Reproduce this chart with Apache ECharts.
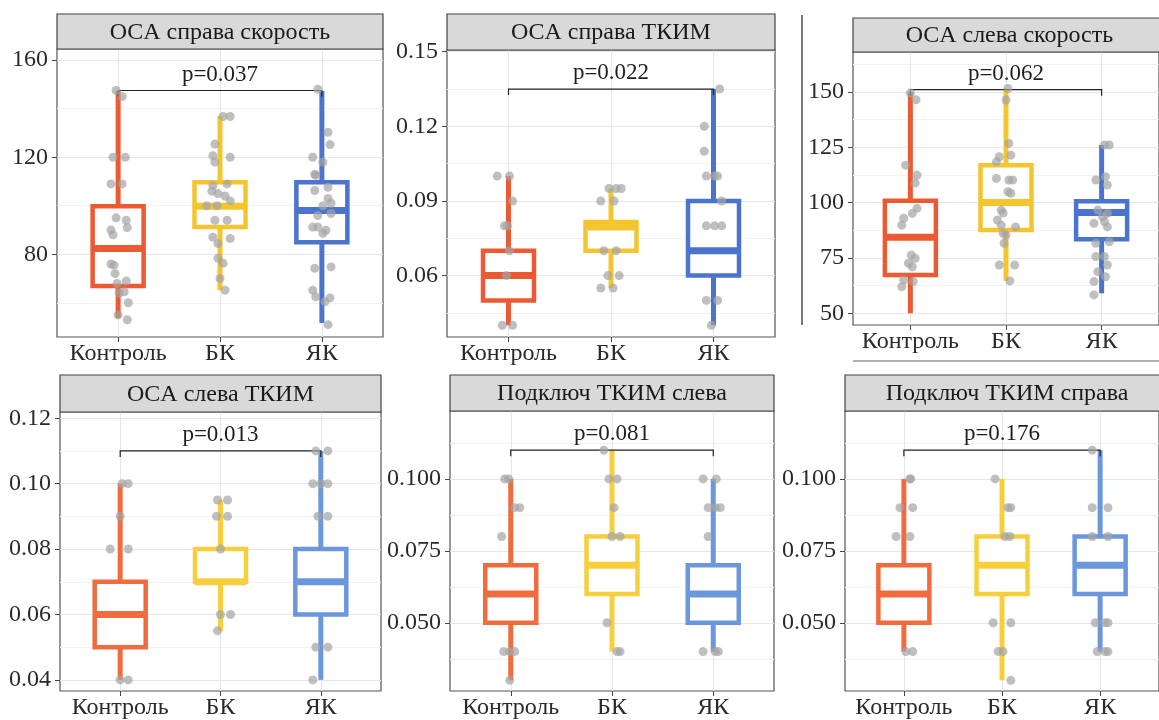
<!DOCTYPE html>
<html>
<head>
<meta charset="UTF-8">
<title>ОСА / ТКИМ по группам</title>
<style>
  html, body { margin: 0; padding: 0; background: #fff; }
  #box { width: 1159px; height: 720px; }
</style>
<script src="https://cdn.jsdelivr.net/npm/echarts@6/dist/echarts.min.js"></script>
</head>
<body>
<div id="box"></div>
<script>
var categories = ['Контроль', 'БК', 'ЯК'];
var titles = ['OCA справа скорость', 'OCA справа ТКИМ', 'OCA слева скорость',
              'OCA слева ТКИМ', 'Подключ ТКИМ слева', 'Подключ ТКИМ справа'];
var pTexts = ['p=0.037', 'p=0.022', 'p=0.062', 'p=0.013', 'p=0.081', 'p=0.176'];
var bracketY = [147.5, 0.135, 151, 0.11, 0.11, 0.11];

// [min, Q1, median, Q3, max] for Контроль, БК, ЯК
var box1 = [[53.7, 66.9, 82.4, 99.8, 147.3], [65.2, 91.2, 99.8, 109.7, 137], [51.7, 84.9, 98, 109.7, 147.3]];
var box2 = [[0.04, 0.05, 0.06, 0.07, 0.10], [0.055, 0.07, 0.0795, 0.0815, 0.095], [0.04, 0.06, 0.07, 0.09, 0.135]];
var box3 = [[50, 67.3, 84.3, 100.8, 150], [64.6, 87.6, 100, 116.9, 151.5], [59, 83.4, 95.5, 100.6, 126]];
var box4 = [[0.04, 0.05, 0.06, 0.07, 0.10], [0.055, 0.07, 0.07, 0.08, 0.095], [0.04, 0.06, 0.07, 0.08, 0.11]];
var box5 = [[0.03, 0.05, 0.06, 0.07, 0.10], [0.04, 0.06, 0.07, 0.08, 0.11], [0.04, 0.05, 0.06, 0.07, 0.10]];
var box6 = [[0.04, 0.05, 0.06, 0.07, 0.10], [0.03, 0.06, 0.07, 0.08, 0.10], [0.04, 0.06, 0.07, 0.08, 0.11]];

// jittered observations: [group position (1..3) with jitter, value]
var pts1 = [
  [0.98, 147.5], [1.04, 145], [0.95, 120], [1.07, 120], [0.93, 109], [1.04, 109], [0.98, 95], [1.08, 94],
  [1.09, 91], [0.93, 90], [0.95, 88], [0.93, 76], [0.96, 75.5], [0.97, 72], [0.99, 68], [1.08, 69],
  [1.06, 64.5], [1.01, 64], [1.1, 60], [1.0, 55], [1.09, 53],
  [2.03, 136.8], [2.1, 136.8], [1.95, 125.4], [1.93, 120.6], [2.1, 120], [1.95, 118], [1.93, 108.3], [2.07, 109],
  [1.92, 106], [1.98, 105], [2.05, 104], [2.1, 102], [1.87, 100], [1.97, 100], [1.95, 94], [2.07, 94],
  [1.93, 87], [1.98, 84.4], [2.1, 86.5], [1.98, 78.4], [2.03, 76.3], [2.0, 70], [2.05, 65.2],
  [2.96, 148], [3.06, 130.3], [3.08, 125.2], [2.91, 120], [3.01, 118], [2.93, 113], [2.94, 112.5], [3.06, 107.6],
  [2.93, 106.3], [3.06, 103], [3.09, 101], [3.01, 100], [2.96, 96], [3.09, 96.8], [2.91, 91.2], [2.96, 91.2],
  [3.04, 89.9], [3.01, 88.6], [2.93, 74.2], [3.09, 74.8], [2.91, 65.2], [3.08, 62], [3.03, 60.4], [2.94, 62.5], [3.06, 51]
];
var pts2 = [
  [0.89, 0.10], [1.01, 0.10], [1.04, 0.09], [0.96, 0.08], [0.99, 0.08], [1.01, 0.07], [0.98, 0.06], [0.94, 0.04], [1.04, 0.04],
  [1.98, 0.095], [2.05, 0.095], [2.1, 0.095], [1.9, 0.09], [2.03, 0.09], [1.93, 0.07], [2.05, 0.07], [1.97, 0.06], [2.08, 0.06],
  [1.9, 0.055], [2.02, 0.055],
  [3.06, 0.135], [2.91, 0.12], [2.91, 0.11], [2.93, 0.10], [3.01, 0.10], [3.04, 0.10], [3.08, 0.09], [2.93, 0.08],
  [3.01, 0.08], [3.08, 0.08], [2.93, 0.05], [3.04, 0.05], [2.98, 0.04]
];
var pts3 = [
  [1.0, 149.5], [1.06, 146.4], [0.95, 116.9], [1.07, 112.4], [1.05, 108.8], [1.07, 97.4], [1.02, 95.1], [0.93, 92.9],
  [0.91, 89.8], [1.01, 76.3], [1.05, 74.8], [0.98, 72.6], [1.02, 71], [0.93, 65], [1.03, 64.3], [0.91, 62],
  [2.02, 151.5], [2.0, 146.3], [2.03, 126.7], [1.93, 120.7], [2.05, 121.4], [1.9, 118.4], [1.9, 110.9], [2.03, 110.2],
  [2.07, 110.2], [2.02, 104.9], [2.05, 104.2], [1.95, 96.6], [1.97, 95.3], [1.91, 92.1], [1.95, 89.8], [2.1, 89],
  [1.97, 86.1], [2.0, 85.3], [1.98, 81.6], [1.93, 71.8], [2.09, 71.8], [2.04, 64.6],
  [3.03, 126], [3.08, 126], [2.94, 110.2], [3.04, 111.7], [3.06, 107.9], [2.96, 96.6], [3.01, 93.6], [3.06, 95.1],
  [2.92, 90.6], [3.03, 91.3], [3.06, 89], [2.94, 81.6], [3.08, 82.3], [2.94, 75.6], [3.03, 75.6], [3.06, 71.8],
  [2.96, 68.8], [3.04, 66.5], [2.92, 64.3], [2.92, 58.3]
];
var pts4 = [
  [1.02, 0.10], [1.08, 0.10], [1.0, 0.09], [0.9, 0.08], [1.08, 0.08], [1.0, 0.04], [1.08, 0.04],
  [1.97, 0.095], [2.07, 0.095], [1.96, 0.09], [2.07, 0.09], [2.0, 0.08], [2.0, 0.06], [2.1, 0.06], [1.97, 0.055],
  [2.95, 0.11], [3.07, 0.11], [2.92, 0.10], [3.0, 0.10], [3.07, 0.10], [2.97, 0.09], [3.07, 0.09], [2.95, 0.05],
  [3.07, 0.05], [2.92, 0.04]
];
var pts5 = [
  [0.94, 0.10], [0.98, 0.10], [1.04, 0.09], [1.09, 0.09], [0.91, 0.08], [0.93, 0.04], [0.99, 0.04], [1.04, 0.04], [0.99, 0.03],
  [1.92, 0.11], [1.97, 0.10], [2.05, 0.10], [2.02, 0.09], [2.0, 0.08], [2.08, 0.08], [1.95, 0.05], [2.05, 0.04], [2.08, 0.04],
  [2.9, 0.10], [3.03, 0.10], [2.95, 0.09], [3.02, 0.09], [3.07, 0.09], [2.95, 0.08], [2.9, 0.04], [3.02, 0.04], [3.05, 0.04]
];
var pts6 = [
  [1.06, 0.10], [1.07, 0.10], [0.96, 0.09], [1.09, 0.09], [0.92, 0.08], [1.06, 0.08], [1.02, 0.04], [1.09, 0.04],
  [1.93, 0.10], [2.06, 0.09], [2.09, 0.09], [2.03, 0.08], [2.08, 0.08], [1.91, 0.05], [2.09, 0.05], [1.96, 0.04],
  [2.01, 0.04], [2.09, 0.03],
  [2.92, 0.11], [2.92, 0.09], [3.08, 0.09], [2.92, 0.08], [3.08, 0.08], [2.95, 0.05], [3.05, 0.05], [3.08, 0.05],
  [2.97, 0.04], [3.05, 0.04], [3.08, 0.04]
];

// y tick labels and minor grid positions
var yTicks1 = [80, 120, 160],                 yMinor1 = [60, 100, 140];
var yTicks2 = [0.06, 0.09, 0.12, 0.15],       yMinor2 = [0.045, 0.075, 0.105, 0.135];
var yTicks3 = [50, 75, 100, 125, 150],        yMinor3 = [62.5, 87.5, 112.5, 137.5, 162.5];
var yTicks4 = [0.04, 0.06, 0.08, 0.10, 0.12], yMinor4 = [0.05, 0.07, 0.09, 0.11];
var yTicks5 = [0.050, 0.075, 0.100],          yMinor5 = [0.0375, 0.0625, 0.0875, 0.1125];
var yTicks6 = [0.050, 0.075, 0.100],          yMinor6 = [0.0375, 0.0625, 0.0875, 0.1125];

var colTop = ['#EC5A34', '#F5C530', '#4B74CF'];
var colBottom = ['#F06C3E', '#F7CF3E', '#6C97DD'];
var FONT = '"Liberation Serif", "DejaVu Serif", serif';

var panels = [
  {box: box1, pts: pts1, ticks: yTicks1, minor: yMinor1, dec: 0, min: 45.9, max: 164.6, rect: [57, 49, 326, 288], strip: 14, cols: colTop},
  {box: box2, pts: pts2, ticks: yTicks2, minor: yMinor2, dec: 2, min: 0.0353, max: 0.1507, rect: [447, 50, 328, 287], strip: 14, cols: colTop},
  {box: box3, pts: pts3, ticks: yTicks3, minor: yMinor3, dec: 0, min: 44.7, max: 168, rect: [853, 52, 313, 273], strip: 18, cols: colTop},
  {box: box4, pts: pts4, ticks: yTicks4, minor: yMinor4, dec: 2, min: 0.0366, max: 0.1219, rect: [60, 412, 321, 281], strip: 375, cols: colBottom},
  {box: box5, pts: pts5, ticks: yTicks5, minor: yMinor5, dec: 3, min: 0.0263, max: 0.1236, rect: [450, 411, 324, 282], strip: 375, cols: colBottom},
  {box: box6, pts: pts6, ticks: yTicks6, minor: yMinor6, dec: 3, min: 0.0263, max: 0.1236, rect: [845, 411, 324, 282], strip: 375, cols: colBottom}
];

var BOX_W = 51;

function boxRenderer(cols) {
  return function (params, api) {
    var x = api.value(0);
    var lo = api.coord([x, api.value(1)]);
    var q1 = api.coord([x, api.value(2)]);
    var md = api.coord([x, api.value(3)]);
    var q3 = api.coord([x, api.value(4)]);
    var hi = api.coord([x, api.value(5)]);
    var c = cols[params.dataIndex];
    var h = BOX_W / 2;
    return {
      type: 'group',
      children: [
        {type: 'line', shape: {x1: lo[0], y1: lo[1], x2: q1[0], y2: q1[1]}, style: {stroke: c, lineWidth: 5}},
        {type: 'line', shape: {x1: q3[0], y1: q3[1], x2: hi[0], y2: hi[1]}, style: {stroke: c, lineWidth: 5}},
        {type: 'rect', shape: {x: q3[0] - h, y: q3[1], width: BOX_W, height: q1[1] - q3[1]},
         style: {fill: '#fff', stroke: c, lineWidth: 4.5}},
        {type: 'line', shape: {x1: md[0] - h, y1: md[1], x2: md[0] + h, y2: md[1]}, style: {stroke: c, lineWidth: 7}}
      ]
    };
  };
}

function bracketRenderer(text) {
  return function (params, api) {
    var a = api.coord([api.value(0), api.value(2)]);
    var b = api.coord([api.value(1), api.value(2)]);
    return {
      type: 'group',
      children: [
        {type: 'polyline', shape: {points: [[a[0], a[1] + 6], [a[0], a[1]], [b[0], b[1]], [b[0], b[1] + 6]]},
         style: {stroke: '#222', lineWidth: 1.2, fill: null}},
        {type: 'text', x: (a[0] + b[0]) / 2, y: a[1] - 16,
         style: {text: text, fill: '#1E1E1E', fontSize: 23, fontFamily: FONT, align: 'center', verticalAlign: 'middle'}}
      ]
    };
  };
}

var grids = [], xAxes = [], yAxes = [], series = [], graphics = [];

panels.forEach(function (p, i) {
  var r = p.rect;
  grids.push({left: r[0], top: r[1], width: r[2], height: r[3], show: true,
              backgroundColor: '#fff', borderColor: '#555', borderWidth: 1.2});

  xAxes.push({
    gridIndex: i, type: 'value', min: 0.4, max: 3.6,
    axisLine: {show: false},
    axisTick: {show: true, length: 5, lineStyle: {color: '#444'}, customValues: [1, 2, 3]},
    axisLabel: {customValues: [1, 2, 3], margin: 5, color: '#2A2A2A', fontSize: 24, fontFamily: FONT,
                formatter: function (v) { return categories[Math.round(v) - 1]; }},
    splitLine: {show: true, lineStyle: {color: '#E6E6E6', width: 1.2}}
  });

  yAxes.push({
    gridIndex: i, type: 'value', min: p.min, max: p.max,
    axisLine: {show: false},
    axisTick: {show: true, length: 5, lineStyle: {color: '#444'}, customValues: p.ticks},
    axisLabel: {customValues: p.ticks, margin: 9, color: '#2A2A2A', fontSize: 24, fontFamily: FONT,
                formatter: (function (d) { return function (v) { return v.toFixed(d); }; })(p.dec)},
    splitLine: {show: true, lineStyle: {color: '#E6E6E6', width: 1.2}}
  });
  // minor grid lines
  yAxes.push({
    gridIndex: i, type: 'value', min: p.min, max: p.max, position: 'left',
    axisLine: {show: false}, axisLabel: {show: false},
    axisTick: {show: false, customValues: p.minor},
    splitLine: {show: true, lineStyle: {color: '#F2F2F2', width: 1}}
  });

  series.push({
    type: 'custom', xAxisIndex: i, yAxisIndex: 2 * i,
    renderItem: boxRenderer(p.cols),
    encode: {x: 0, y: [1, 2, 3, 4, 5]},
    data: p.box.map(function (b, k) { return [k + 1].concat(b); }),
    silent: true
  });
  series.push({
    type: 'scatter', xAxisIndex: i, yAxisIndex: 2 * i,
    symbolSize: 9,
    itemStyle: {color: '#A4A4A4', opacity: 0.7},
    data: p.pts,
    silent: true
  });
  series.push({
    type: 'custom', xAxisIndex: i, yAxisIndex: 2 * i,
    renderItem: bracketRenderer(pTexts[i]),
    encode: {x: [0, 1], y: 2},
    data: [[1, 3, bracketY[i]]],
    silent: true
  });

  // facet strip
  var sh = r[1] - p.strip;
  graphics.push({type: 'rect', z: 10, shape: {x: r[0], y: p.strip, width: r[2], height: sh},
                 style: {fill: '#D9D9D9', stroke: '#444', lineWidth: 1.2}});
  graphics.push({type: 'text', z: 11, x: r[0] + r[2] / 2, y: p.strip + sh / 2 + 1,
                 style: {text: titles[i], fill: '#1A1A1A', fontSize: 24, fontFamily: FONT,
                         align: 'center', verticalAlign: 'middle'}});
});

// stray page lines around the right-top panel
graphics.push({type: 'line', shape: {x1: 802, y1: 15, x2: 802, y2: 325}, style: {stroke: '#777', lineWidth: 2}});
graphics.push({type: 'line', shape: {x1: 853, y1: 361, x2: 1159, y2: 361}, style: {stroke: '#999', lineWidth: 1.5}});

var myChart = echarts.init(document.getElementById('box'));
myChart.setOption({
  animation: false,
  backgroundColor: '#fff',
  grid: grids,
  xAxis: xAxes,
  yAxis: yAxes,
  series: series,
  graphic: graphics
});
</script>
</body>
</html>
